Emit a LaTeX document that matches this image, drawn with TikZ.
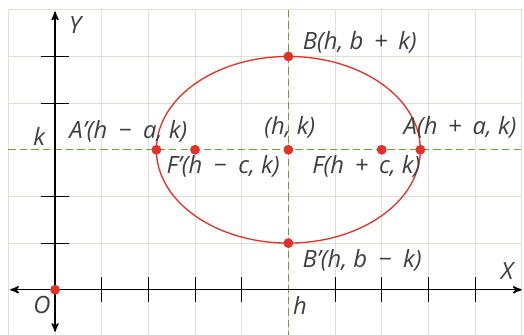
\documentclass[tikz,border=0pt]{standalone}
\usepackage{fontspec}
\setmainfont{Open Sans}
\usetikzlibrary{arrows}
\definecolor{ptred}{RGB}{228,48,38}
\definecolor{dashgreen}{RGB}{98,165,52}
\definecolor{gridcol}{RGB}{222,226,212}
\definecolor{txtgray}{RGB}{62,62,62}
\newcommand\mn{\hspace{0.48em}−\hspace{0.48em}}
\newcommand\pl{\hspace{0.45em}+\hspace{0.45em}}

\begin{document}
\begin{tikzpicture}[x=1cm,y=1cm,>=stealth',font=\fontsize{14.5}{17}\selectfont\itshape,
    pt/.style={circle,fill=ptred,inner sep=0pt,minimum size=6pt},
    lbl/.style={text=txtgray,inner sep=0pt},
    axis/.style={black,line width=0.9pt},
    tick/.style={black,line width=0.6pt},
    guide/.style={dashgreen,dashed,line width=0.8pt,dash pattern=on 4.5pt off 2.5pt}]
    \useasboundingbox (-1.18,-0.96) rectangle (10.05,6.21);
    \draw[gridcol,line width=0.6pt] (-1,-0.96) grid (10,6);
    \coordinate (gl) at (-1,3);
    \coordinate (gr) at (10,3);
    \coordinate (gt) at (5,6);
    \coordinate (gb) at (5,-0.96);
    \draw[white,line width=0.8pt] (gl) -- (gr);
    \draw[guide] (gl) -- (gr);
    \draw[guide] (gt) -- (gb);
    \coordinate (xl) at (-0.96,0);
    \coordinate (xr) at (10,0);
    \coordinate (yt) at (0,5.96);
    \coordinate (yb) at (0,-0.9);
    \draw[<->,axis] (xl) -- (xr);
    \draw[<->,axis] (yb) -- (yt);
    \foreach \i in {1,2,3,4,6,7,8,9}
        \draw[tick] (\i,-0.26) -- (\i,0.28);
    \foreach \j in {1,2,4,5}
        \draw[tick] (-0.3,\j) -- (0.3,\j);
    \node[pt] (C) at (5,3) {};
    \draw[ptred,line width=0.8pt] (C.center) ellipse ({2*sqrt(2)} and 2);
    \node[pt] (O) at (0,0) {};
    \node[pt] (Ap) at ({5-2*sqrt(2)},3) {};
    \node[pt] (A) at ({5+2*sqrt(2)},3) {};
    \node[pt] (Fp) at (3,3) {};
    \node[pt] (F) at (7,3) {};
    \node[pt] (B) at (5,5) {};
    \node[pt] (Bp) at (5,1) {};
    \node[lbl] (ylbl) at (0.43,5.68) {Y};
    \node[lbl] (klbl) at (-0.34,3.28) {k};
    \node[lbl] (Aplbl) at (1.57,3.4) {A'(h\mn a, k)};
    \node[lbl] (Clbl) at (5.03,3.47) {(h, k)};
    \node[lbl] (Albl) at (8.68,3.47) {A(h\pl a, k)};
    \node[lbl] (Blbl) at (6.53,5.31) {B(h, b\pl k)};
    \node[lbl] (Fplbl) at (3.6,2.64) {F'(h\mn c, k)};
    \node[lbl] (Flbl) at (6.67,2.64) {F(h\pl c, k)};
    \node[lbl] (Bplbl) at (6.58,0.62) {B'(h, b\mn k)};
    \node[lbl] (xlbl) at (9.69,0.41) {X};
    \node[lbl] (Olbl) at (-0.28,-0.32) {O};
    \node[lbl] (hlbl) at (5.25,-0.34) {h};
\end{tikzpicture}
\end{document}
